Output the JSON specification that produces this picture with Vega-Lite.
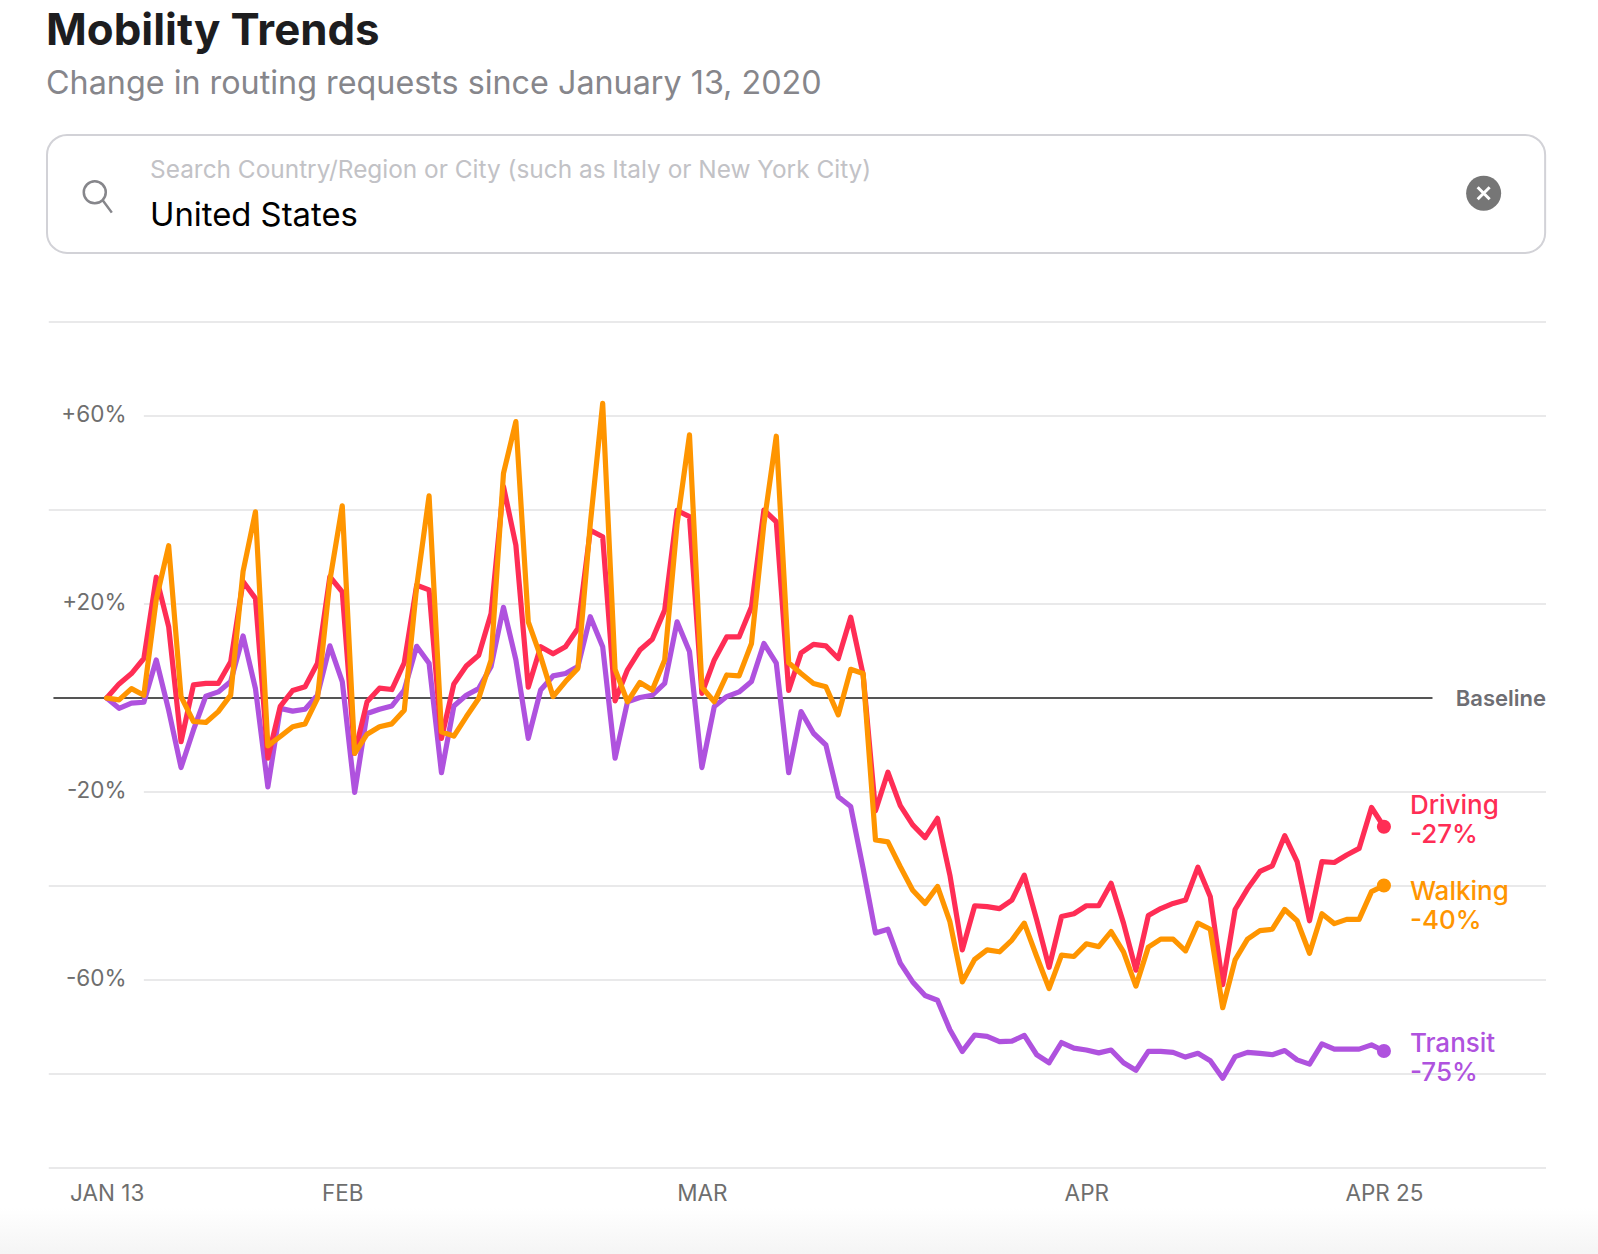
{"$schema":"https://vega.github.io/schema/vega-lite/v6.json","width":1498,"height":846,"autosize":{"type":"none"},"padding":{"left":48,"top":322,"right":52,"bottom":86},"background":"white","config":{"view":{"stroke":null},"font":"Inter"},"title":{"text":"Mobility Trends","subtitle":"Change in routing requests since January 13, 2020","anchor":"start","frame":"group","dx":-2,"offset":34,"font":"Inter","fontSize":43.8,"fontWeight":700,"color":"#1d1d1f","subtitleFont":"Inter","subtitleFontSize":32.3,"subtitleFontWeight":400,"subtitleColor":"#86868b","subtitlePadding":13.5},"datasets":{"trend":[
{"date":"2020-01-13","Transit":0,"Driving":0,"Walking":0},{"date":"2020-01-14","Transit":-2.2,"Driving":3,"Walking":-0.4},{"date":"2020-01-15","Transit":-1.1,"Driving":5.2,"Walking":2},{"date":"2020-01-16","Transit":-0.9,"Driving":8.4,"Walking":0.6},{"date":"2020-01-17","Transit":8.1,"Driving":25.7,"Walking":21},{"date":"2020-01-18","Transit":-2.6,"Driving":15.2,"Walking":32.4},{"date":"2020-01-19","Transit":-14.8,"Driving":-9.3,"Walking":0.3},{"date":"2020-01-20","Transit":-6.8,"Driving":2.8,"Walking":-5},{"date":"2020-01-21","Transit":0.4,"Driving":3.1,"Walking":-5.2},{"date":"2020-01-22","Transit":1.3,"Driving":3.1,"Walking":-2.9},{"date":"2020-01-23","Transit":3.5,"Driving":7.7,"Walking":0.6},{"date":"2020-01-24","Transit":13.2,"Driving":24.8,"Walking":26.9},{"date":"2020-01-25","Transit":2,"Driving":21.2,"Walking":39.6},{"date":"2020-01-26","Transit":-18.9,"Driving":-12.8,"Walking":-10.2},{"date":"2020-01-27","Transit":-2.2,"Driving":-1.8,"Walking":-8.2},{"date":"2020-01-28","Transit":-2.8,"Driving":1.6,"Walking":-6.1},{"date":"2020-01-29","Transit":-2.4,"Driving":2.4,"Walking":-5.5},{"date":"2020-01-30","Transit":0.6,"Driving":7.4,"Walking":-0.1},{"date":"2020-01-31","Transit":11.1,"Driving":25.8,"Walking":25},
{"date":"2020-02-01","Transit":3.5,"Driving":22.6,"Walking":40.9},{"date":"2020-02-02","Transit":-20.1,"Driving":-11.8,"Walking":-11.8},{"date":"2020-02-03","Transit":-3.3,"Driving":-0.8,"Walking":-7.7},{"date":"2020-02-04","Transit":-2.4,"Driving":2.1,"Walking":-6.1},{"date":"2020-02-05","Transit":-1.7,"Driving":1.8,"Walking":-5.5},{"date":"2020-02-06","Transit":1.7,"Driving":7.5,"Walking":-2.6},{"date":"2020-02-07","Transit":11,"Driving":24,"Walking":23.7},{"date":"2020-02-08","Transit":7.4,"Driving":23,"Walking":43},{"date":"2020-02-09","Transit":-15.9,"Driving":-8.6,"Walking":-7.2},{"date":"2020-02-10","Transit":-1.7,"Driving":3,"Walking":-8.1},{"date":"2020-02-11","Transit":0.6,"Driving":6.8,"Walking":-4},{"date":"2020-02-12","Transit":2,"Driving":9.1,"Walking":-0.1},{"date":"2020-02-13","Transit":6.7,"Driving":18,"Walking":8.1},{"date":"2020-02-14","Transit":19.3,"Driving":45,"Walking":47.8},{"date":"2020-02-15","Transit":8.1,"Driving":32.5,"Walking":58.8},{"date":"2020-02-16","Transit":-8.6,"Driving":2.3,"Walking":16.2},{"date":"2020-02-17","Transit":1.7,"Driving":10.9,"Walking":8.8},{"date":"2020-02-18","Transit":4.7,"Driving":9.4,"Walking":0.3},{"date":"2020-02-19","Transit":5.2,"Driving":10.9,"Walking":3.5},{"date":"2020-02-20","Transit":6.7,"Driving":14.8,"Walking":6.3},{"date":"2020-02-21","Transit":17.3,"Driving":35.7,"Walking":37},{"date":"2020-02-22","Transit":10.9,"Driving":34.3,"Walking":62.7},{"date":"2020-02-23","Transit":-12.8,"Driving":-0.6,"Walking":6.1},{"date":"2020-02-24","Transit":-0.8,"Driving":6,"Walking":-0.8},{"date":"2020-02-25","Transit":0.1,"Driving":10.2,"Walking":3.3},{"date":"2020-02-26","Transit":0.6,"Driving":12.5,"Walking":1.7},{"date":"2020-02-27","Transit":3.1,"Driving":18.7,"Walking":8.1},{"date":"2020-02-28","Transit":16.2,"Driving":39.9,"Walking":37},{"date":"2020-02-29","Transit":9.9,"Driving":38.6,"Walking":56},
{"date":"2020-03-01","Transit":-14.8,"Driving":1,"Walking":2.3},{"date":"2020-03-02","Transit":-1.8,"Driving":8.1,"Walking":-0.8},{"date":"2020-03-03","Transit":0.3,"Driving":13,"Walking":4.9},{"date":"2020-03-04","Transit":1.3,"Driving":13,"Walking":4.7},{"date":"2020-03-05","Transit":3.5,"Driving":19.4,"Walking":11.6},{"date":"2020-03-06","Transit":11.6,"Driving":40,"Walking":37},{"date":"2020-03-07","Transit":7.4,"Driving":37.5,"Walking":55.7},{"date":"2020-03-08","Transit":-15.9,"Driving":1.6,"Walking":7.5},{"date":"2020-03-09","Transit":-2.9,"Driving":9.6,"Walking":5.2},{"date":"2020-03-10","Transit":-7.5,"Driving":11.4,"Walking":3.1},{"date":"2020-03-11","Transit":-10,"Driving":11.1,"Walking":2.4},{"date":"2020-03-12","Transit":-21,"Driving":8.4,"Walking":-3.6},{"date":"2020-03-13","Transit":-23.1,"Driving":17.2,"Walking":6.1},{"date":"2020-03-14","Transit":-36.2,"Driving":5,"Walking":5.2},{"date":"2020-03-15","Transit":-50,"Driving":-24,"Walking":-30.2},{"date":"2020-03-16","Transit":-49.2,"Driving":-15.8,"Walking":-30.6},{"date":"2020-03-17","Transit":-56.4,"Driving":-22.9,"Walking":-35.9},{"date":"2020-03-18","Transit":-60.4,"Driving":-27,"Walking":-40.9},{"date":"2020-03-19","Transit":-63.3,"Driving":-29.7,"Walking":-43.7},{"date":"2020-03-20","Transit":-64.3,"Driving":-25.6,"Walking":-40.1},{"date":"2020-03-21","Transit":-70.6,"Driving":-37.7,"Walking":-47.6},{"date":"2020-03-22","Transit":-75.2,"Driving":-53.6,"Walking":-60.4},{"date":"2020-03-23","Transit":-71.7,"Driving":-44.2,"Walking":-55.6},{"date":"2020-03-24","Transit":-72,"Driving":-44.4,"Walking":-53.6},{"date":"2020-03-25","Transit":-73.1,"Driving":-44.8,"Walking":-54},{"date":"2020-03-26","Transit":-73,"Driving":-43,"Walking":-51.5},{"date":"2020-03-27","Transit":-71.8,"Driving":-37.7,"Walking":-47.9},{"date":"2020-03-28","Transit":-75.9,"Driving":-47.2,"Walking":-55},{"date":"2020-03-29","Transit":-77.6,"Driving":-57.3,"Walking":-61.8},{"date":"2020-03-30","Transit":-73.3,"Driving":-46.5,"Walking":-54.7},{"date":"2020-03-31","Transit":-74.5,"Driving":-45.9,"Walking":-55},
{"date":"2020-04-01","Transit":-74.9,"Driving":-44.2,"Walking":-52.3},{"date":"2020-04-02","Transit":-75.5,"Driving":-44.2,"Walking":-52.9},{"date":"2020-04-03","Transit":-74.9,"Driving":-39.4,"Walking":-49.7},{"date":"2020-04-04","Transit":-77.6,"Driving":-47.9,"Walking":-54},{"date":"2020-04-05","Transit":-79.2,"Driving":-57.9,"Walking":-61.3},{"date":"2020-04-06","Transit":-75.2,"Driving":-46.3,"Walking":-53},{"date":"2020-04-07","Transit":-75.2,"Driving":-44.8,"Walking":-51.3},{"date":"2020-04-08","Transit":-75.4,"Driving":-43.7,"Walking":-51.3},{"date":"2020-04-09","Transit":-76.4,"Driving":-43,"Walking":-53.8},{"date":"2020-04-10","Transit":-75.6,"Driving":-36,"Walking":-47.9},{"date":"2020-04-11","Transit":-77.2,"Driving":-42.3,"Walking":-49.2},{"date":"2020-04-12","Transit":-80.9,"Driving":-61,"Walking":-65.9},{"date":"2020-04-13","Transit":-76.3,"Driving":-45,"Walking":-55.7},{"date":"2020-04-14","Transit":-75.4,"Driving":-40.6,"Walking":-51.3},{"date":"2020-04-15","Transit":-75.6,"Driving":-36.9,"Walking":-49.5},{"date":"2020-04-16","Transit":-75.9,"Driving":-35.7,"Walking":-49.2},{"date":"2020-04-17","Transit":-75,"Driving":-29.3,"Walking":-45},{"date":"2020-04-18","Transit":-77,"Driving":-34.8,"Walking":-47.4},{"date":"2020-04-19","Transit":-77.9,"Driving":-47.4,"Walking":-54.3},{"date":"2020-04-20","Transit":-73.6,"Driving":-34.8,"Walking":-45.9},{"date":"2020-04-21","Transit":-74.7,"Driving":-35,"Walking":-48},{"date":"2020-04-22","Transit":-74.7,"Driving":-33.4,"Walking":-47.1},{"date":"2020-04-23","Transit":-74.7,"Driving":-32,"Walking":-47.1},{"date":"2020-04-24","Transit":-73.8,"Driving":-23.3,"Walking":-41.2},{"date":"2020-04-25","Transit":-75.1,"Driving":-27.4,"Walking":-39.9}],
"ends":[{"series":"Driving","date":"2020-04-25","value":-27.4,"label":"Driving\n-27%","labelAt":-24.6},{"series":"Walking","date":"2020-04-25","value":-39.9,"label":"Walking\n-40%","labelAt":-42.9},{"series":"Transit","date":"2020-04-25","value":-75.1,"label":"Transit\n-75%","labelAt":-75.3}],
"grid":[{"v":80,"from":"2020-01-08T08:00:00Z"},{"v":60,"from":"2020-01-16T00:00:00Z"},{"v":40,"from":"2020-01-08T08:00:00Z"},{"v":20,"from":"2020-01-16T00:00:00Z"},{"v":-20,"from":"2020-01-16T00:00:00Z"},{"v":-40,"from":"2020-01-08T08:00:00Z"},{"v":-60,"from":"2020-01-16T00:00:00Z"},{"v":-80,"from":"2020-01-08T08:00:00Z"},{"v":-100,"from":"2020-01-08T08:00:00Z"}]},
"encoding":{"x":{"field":"date","type":"temporal","title":null,"scale":{"type":"utc","domain":[1578464928000,1588902048000]},"axis":{"values":[1578873600000,1580515200000,1583020800000,1585699200000,1587772800000],"labelExpr":"utcdate(datum.value)==1 ? upper(utcFormat(datum.value,'%b')) : upper(utcFormat(datum.value,'%b %d'))","ticks":false,"domain":false,"grid":false,"labelFontSize":22.5,"labelColor":"#6e6e6e","labelFont":"Inter","labelPadding":14,"labelFlush":false,"labelOverlap":false,"labelBound":false}}},
"layer":[
{"data":{"values":[{"date":"2020-01-04T07:00:00Z","end":"2020-05-12T07:00:00Z","v":-108.5,"v2":-119}]},"mark":{"type":"rect","fill":{"gradient":"linear","x1":0,"y1":0,"x2":0,"y2":1,"stops":[{"offset":0,"color":"#ffffff"},{"offset":1,"color":"#f4f4f4"}]}},"encoding":{"x2":{"field":"end"},"y":{"field":"v","type":"quantitative","title":null,"scale":{"domain":[-100,80]},"axis":{"values":[60,20,-20,-60],"labelExpr":"datum.value>0 ? '+'+datum.value+'%' : datum.value+'%'","ticks":false,"domain":false,"grid":false,"labelFontSize":22.5,"labelColor":"#6e6e6e","labelFont":"Inter","labelPadding":-78,"labelOffset":-1.5,"labelOverlap":false,"labelBound":false}},"y2":{"field":"v2"}}},
{"data":{"name":"grid"},"mark":{"type":"rule","stroke":"#e9e9ea","strokeWidth":2},"encoding":{"x":{"field":"from","type":"temporal"},"x2":{"datum":1588902048000},"y":{"field":"v","type":"quantitative"}}},
{"data":{"values":[{"date":"2020-01-08T17:00:00Z","end":"2020-04-28T22:00:00Z","v":0}]},"mark":{"type":"rule","stroke":"#555555","strokeWidth":2},"encoding":{"x2":{"field":"end"},"y":{"field":"v","type":"quantitative"}}},
{"data":{"values":[{"date":"2020-05-08T01:41:00Z","v":0,"t":"Baseline"}]},"mark":{"type":"text","align":"right","baseline":"middle","dy":1,"font":"Inter","fontSize":22,"fontWeight":600,"color":"#6e6e73"},"encoding":{"y":{"field":"v","type":"quantitative"},"text":{"field":"t"}}},
{"data":{"values":[{"date":"2020-01-08T04:34:00Z","end":"2020-05-08T00:00:00Z","v":119.8,"v2":94.7}]},"mark":{"type":"rect","fill":"white","stroke":"#d2d2d7","strokeWidth":2,"cornerRadius":20,"clip":false},"encoding":{"x2":{"field":"end"},"y":{"field":"v","type":"quantitative"},"y2":{"field":"v2"}}},
{"data":{"values":[{"date":"2020-01-16T12:00:00Z","v":110.6,"t":"Search Country/Region or City (such as Italy or New York City)"}]},"mark":{"type":"text","align":"left","baseline":"alphabetic","font":"Inter","fontSize":24.4,"color":"#c2c2c6"},"encoding":{"y":{"field":"v","type":"quantitative"},"text":{"field":"t"}}},
{"data":{"values":[{"date":"2020-01-16T12:00:00Z","v":100.4,"t":"United States"}]},"mark":{"type":"text","align":"left","baseline":"alphabetic","font":"Inter","fontSize":32.8,"color":"#000000"},"encoding":{"y":{"field":"v","type":"quantitative"},"text":{"field":"t"}}},
{"data":{"values":[{"date":"2020-01-12T01:00:00Z","v":107.6}]},"mark":{"type":"point","shape":"M1,0A1,1 0 1 1 -1,0A1,1 0 1 1 1,0M0.72,0.72L1.55,1.85","size":484,"filled":false,"stroke":"#86868b","strokeWidth":2.5,"opacity":1},"encoding":{"y":{"field":"v","type":"quantitative"}}},
{"data":{"values":[{"date":"2020-05-03T01:00:00Z","v":107.4}]},"mark":{"type":"point","shape":"circle","size":1225,"filled":true,"color":"#767676","opacity":1},"encoding":{"y":{"field":"v","type":"quantitative"}}},
{"data":{"values":[{"date":"2020-05-03T01:00:00Z","v":107.4}]},"mark":{"type":"point","shape":"M-1,-1L1,1M-1,1L1,-1","size":144,"filled":false,"stroke":"white","strokeWidth":3,"opacity":1},"encoding":{"y":{"field":"v","type":"quantitative"}}},
{"data":{"name":"trend"},"transform":[{"fold":["Transit","Driving","Walking"],"as":["series","value"]}],"mark":{"type":"line","strokeWidth":5.2,"strokeJoin":"round","strokeCap":"round"},"encoding":{"y":{"field":"value","type":"quantitative"},"color":{"field":"series","type":"nominal","legend":null,"scale":{"domain":["Driving","Walking","Transit"],"range":["#ff2d55","#ff9500","#af52de"]}}}},
{"data":{"name":"ends"},"mark":{"type":"point","shape":"circle","filled":true,"size":200,"opacity":1},"encoding":{"y":{"field":"value","type":"quantitative"},"color":{"field":"series","type":"nominal","legend":null}}},
{"data":{"name":"ends"},"mark":{"type":"text","align":"left","baseline":"alphabetic","dx":26,"font":"Inter","fontSize":26,"fontWeight":500,"lineBreak":"\n","lineHeight":29.5},"encoding":{"y":{"field":"labelAt","type":"quantitative"},"text":{"field":"label"},"color":{"field":"series","type":"nominal","legend":null}}}
]}
